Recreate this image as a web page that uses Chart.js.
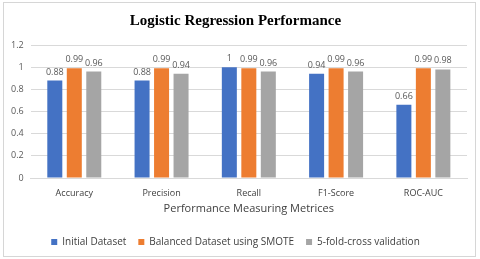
<!DOCTYPE html>
<html>
<head>
<meta charset="utf-8">
<script src="https://cdn.jsdelivr.net/npm/chart.js@4/dist/chart.umd.min.js"></script>
<style>
  html, body { margin: 0; padding: 0; background: #fff; }
  #wrap { position: relative; width: 480px; height: 259px; }
  #frame { position: absolute; left: 3px; top: 2px; width: 473px; height: 255px; border: 1px solid #d6d6d6; box-sizing: border-box; }
  #c { position: absolute; left: 0; top: 0; }
</style>
</head>
<body>
<div id="wrap">
  <div id="frame"></div>
  <canvas id="c" width="480" height="259"></canvas>
</div>
<script>
// chart values
const metrics = ['Accuracy', 'Precision', 'Recall', 'F1-Score', 'ROC-AUC'];
const initialDataset = [0.88, 0.88, 1, 0.94, 0.66];
const smoteDataset = [0.99, 0.99, 0.99, 0.99, 0.99];
const crossValidation = [0.96, 0.94, 0.96, 0.96, 0.98];
const yTicks = [0, 0.2, 0.4, 0.6, 0.8, 1, 1.2];

const labelFont = 'Open Sans';

// prints the value on top of every bar
const valueLabels = {
  id: 'valueLabels',
  afterDatasetsDraw(chart) {
    const ctx = chart.ctx;
    ctx.save();
    ctx.font = '9px "' + labelFont + '"';
    ctx.fillStyle = '#595959';
    ctx.textAlign = 'center';
    ctx.textBaseline = 'bottom';
    chart.data.datasets.forEach((ds, i) => {
      chart.getDatasetMeta(i).data.forEach((bar, j) => {
        ctx.fillText(String(ds.data[j]), bar.x, bar.y - 4);
      });
    });
    ctx.restore();
  }
};

new Chart(document.getElementById('c'), {
  type: 'bar',
  data: {
    labels: metrics,
    datasets: [
      { label: 'Initial Dataset', data: initialDataset, backgroundColor: '#4472C4' },
      { label: 'Balanced Dataset using SMOTE', data: smoteDataset, backgroundColor: '#ED7D31' },
      { label: '5-fold-cross validation', data: crossValidation, backgroundColor: '#A5A5A5' }
    ]
  },
  options: {
    responsive: false,
    animation: false,
    layout: { padding: { left: 4, right: 13, top: 8, bottom: 2 } },
    datasets: {
      bar: { categoryPercentage: 0.67, barPercentage: 0.77 }
    },
    plugins: {
      title: {
        display: true,
        text: 'Logistic Regression Performance',
        color: '#000',
        font: { family: 'Liberation Serif', size: 15, weight: 'bold' },
        padding: { top: 4, bottom: 15 }
      },
      legend: {
        position: 'bottom',
        labels: {
          boxWidth: 6,
          boxHeight: 6,
          color: '#404040',
          font: { family: labelFont, size: 10 },
          padding: 12
        }
      },
      tooltip: { enabled: false }
    },
    scales: {
      y: {
        min: 0,
        max: 1.2,
        afterBuildTicks: (axis) => { axis.ticks = yTicks.map(v => ({ value: v })); },
        ticks: {
          color: '#595959',
          font: { family: labelFont, size: 9 },
          padding: 7,
          callback: (v) => String(Math.round(v * 10) / 10)
        },
        grid: { color: '#d9d9d9', drawTicks: false },
        border: { display: false }
      },
      x: {
        afterFit: (axis) => { axis.height = 47; },
        title: {
          display: true,
          text: 'Performance Measuring Metrices',
          color: '#404040',
          font: { family: labelFont, size: 11 },
          padding: { top: 2, bottom: 10 }
        },
        ticks: {
          color: '#404040',
          font: { family: labelFont, size: 9 },
          padding: 10
        },
        grid: { display: false, drawTicks: false },
        border: { color: '#d9d9d9' }
      }
    }
  },
  plugins: [valueLabels]
});
</script>
</body>
</html>
